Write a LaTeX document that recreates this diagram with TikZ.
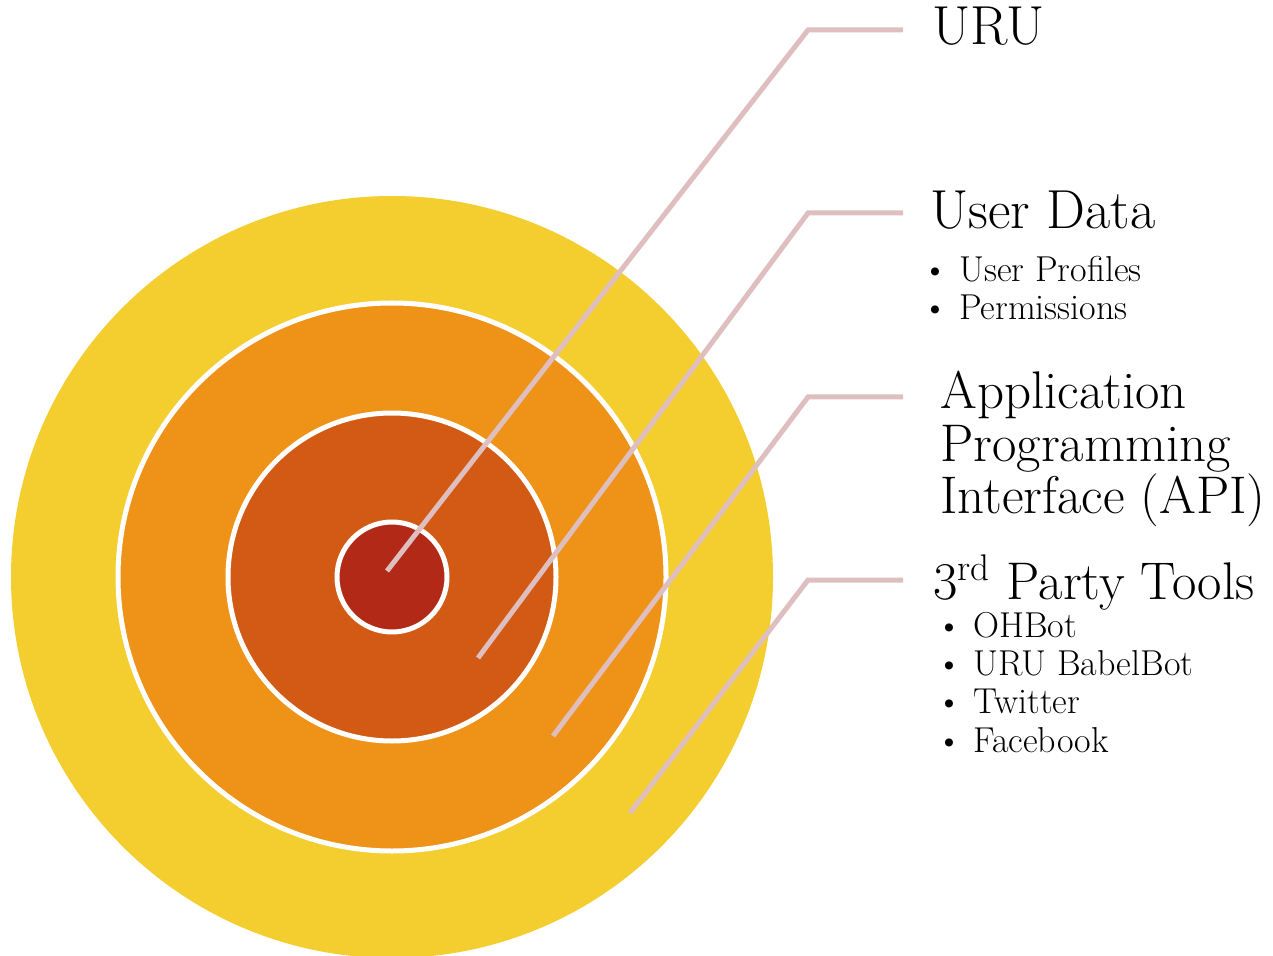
\documentclass[tikz,border=0pt]{standalone}
\usepackage{tikz}
\usetikzlibrary{calc}
\definecolor{ringyellow}{RGB}{244,205,47}
\definecolor{ringorange}{RGB}{238,147,24}
\definecolor{ringrust}{RGB}{211,90,20}
\definecolor{ringred}{RGB}{178,42,23}
\definecolor{leadpink}{RGB}{222,190,190}
\tikzset{
	ring/.style={draw=white, line width=2.5pt},
	lead/.style={line width=2.5pt, color=leadpink},
	heading/.style={anchor=base west, inner sep=0pt, font=\fontsize{27.5}{32}\selectfont},
	apiline/.style={anchor=base west, inner sep=0pt, font=\fontsize{26.5}{30}\selectfont},
	bullet/.style={anchor=base west, inner sep=0pt, font=\fontsize{18}{21}\selectfont}
}
\def\itm#1{\textbullet\hspace{0.3em}#1}

\begin{document}
\begin{tikzpicture}[x=0.5pt, y=-0.5pt]
			%%%%% START %%%%%
			\useasboundingbox (0, 0) rectangle (1273, 956);
			\coordinate (c) at (392, 577);
			
			\fill[ringyellow] (c) circle (381);
			\draw[ring, fill=ringorange] (c) circle (274);
			\draw[ring, fill=ringrust] (c) circle (164);
			\draw[ring, fill=ringred] (c) circle (55);
			
			\coordinate (p1) at (387, 571);
			\coordinate (k1) at (808, 30);
			\coordinate (e1) at (903, 30);
			\coordinate (p2) at (478, 658);
			\coordinate (k2) at (808, 213);
			\coordinate (e2) at (903, 213);
			\coordinate (p3) at (553, 736);
			\coordinate (k3) at (808, 397);
			\coordinate (e3) at (903, 397);
			\coordinate (p4) at (630, 813);
			\coordinate (k4) at (808, 580);
			\coordinate (e4) at (903, 580);
			
			\draw[lead] (p1) -- (k1) -- (e1);
			\draw[lead] (p2) -- (k2) -- (e2);
			\draw[lead] (p3) -- (k3) -- (e3);
			\draw[lead] (p4) -- (k4) -- (e4);
			
			\node[heading] (uru) at (932, 45) {URU};
			
			\node[heading] (userdata) at (930, 229) {User Data};
			\node[bullet] (profiles) at (922, 282) {\itm{User Profiles}};
			\node[bullet] (permissions) at (922, 320) {\itm{Permissions}};
			
			\node[apiline] (api1) at (940, 409) {Application};
			\node[apiline] (api2) at (940, 462) {Programming};
			\node[apiline] (api3) at (940, 514) {Interface (API)};
			
			\node[heading, font=\fontsize{26.5}{31}\selectfont] (tools) at (933, 599) {3\textsuperscript{rd} Party Tools};
			\node[bullet] (ohbot) at (936, 637) {\itm{OHBot}};
			\node[bullet] (babelbot) at (936, 675) {\itm{URU BabelBot}};
			\node[bullet] (twitter) at (936, 713) {\itm{Twitter}};
			\node[bullet] (facebook) at (936, 752) {\itm{Facebook}};
			%%%%% END %%%%%
\end{tikzpicture}
\end{document}
